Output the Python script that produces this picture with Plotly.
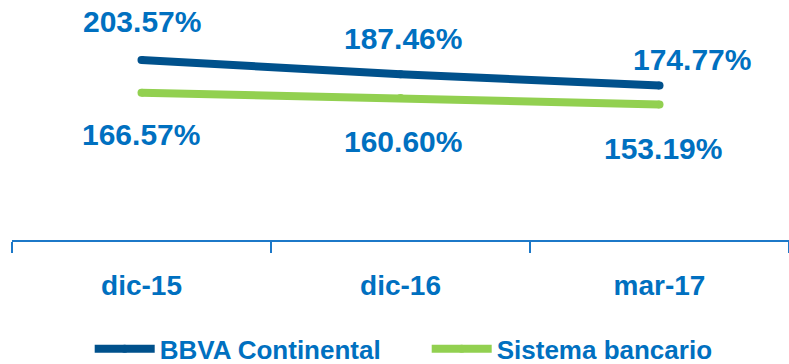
import plotly.graph_objects as go

categories = ["dic-15", "dic-16", "mar-17"]
bbva = [203.57, 187.46, 174.77]
sistema = [166.57, 160.60, 153.19]
series_names = ["BBVA Continental", "Sistema bancario"]

FONT = "Liberation Sans, Arial, sans-serif"
TXT = "#0070C0"
C_BBVA = "#00518C"
C_SIS = "#92D050"

fig = go.Figure()
fig.add_trace(go.Scatter(x=categories, y=bbva, name=series_names[0], mode="lines+markers",
                         line=dict(color=C_BBVA, width=8), marker=dict(size=8, color=C_BBVA)))
fig.add_trace(go.Scatter(x=categories, y=sistema, name=series_names[1], mode="lines+markers",
                         line=dict(color=C_SIS, width=8), marker=dict(size=8, color=C_SIS)))

bbva_shift = [(0, 38), (2, 36), (32, 26)]
sis_shift = [(-1, -42), (2, -44), (3, -44)]
anns = []
for cat, v, (dx, dy) in zip(categories, bbva, bbva_shift):
    anns.append(dict(x=cat, y=v, text=f"{v:.2f}%", showarrow=False, xshift=dx, yshift=dy,
                     font=dict(family=FONT, size=30, color=TXT, weight="bold")))
for cat, v, (dx, dy) in zip(categories, sistema, sis_shift):
    anns.append(dict(x=cat, y=v, text=f"{v:.2f}%", showarrow=False, xshift=dx, yshift=dy,
                     font=dict(family=FONT, size=30, color=TXT, weight="bold")))

fig.update_layout(
    width=789, height=364,
    margin=dict(l=12, r=0, t=0, b=124, autoexpand=False),
    plot_bgcolor="white", paper_bgcolor="white",
    annotations=anns,
    xaxis=dict(type="category", range=[-0.5, 2.5], showgrid=False, zeroline=False,
               showline=True, linecolor="#1C78C8", linewidth=2,
               ticks="outside", tickson="boundaries", ticklen=11, tickwidth=2, tickcolor="#1C78C8",
               tickfont=dict(family=FONT, size=28, color=TXT, weight="bold"),
               ticklabelstandoff=19),
    yaxis=dict(range=[0, 271.4], visible=False),
    showlegend=True,
    legend=dict(orientation="h", x=0.1, xanchor="left", y=-0.454, yanchor="middle",
                itemwidth=60, entrywidth=262, entrywidthmode="pixels",
                font=dict(family=FONT, size=26, color=TXT, weight="bold"),
                bgcolor="rgba(0,0,0,0)"),
)

fig.write_html("out.html")
